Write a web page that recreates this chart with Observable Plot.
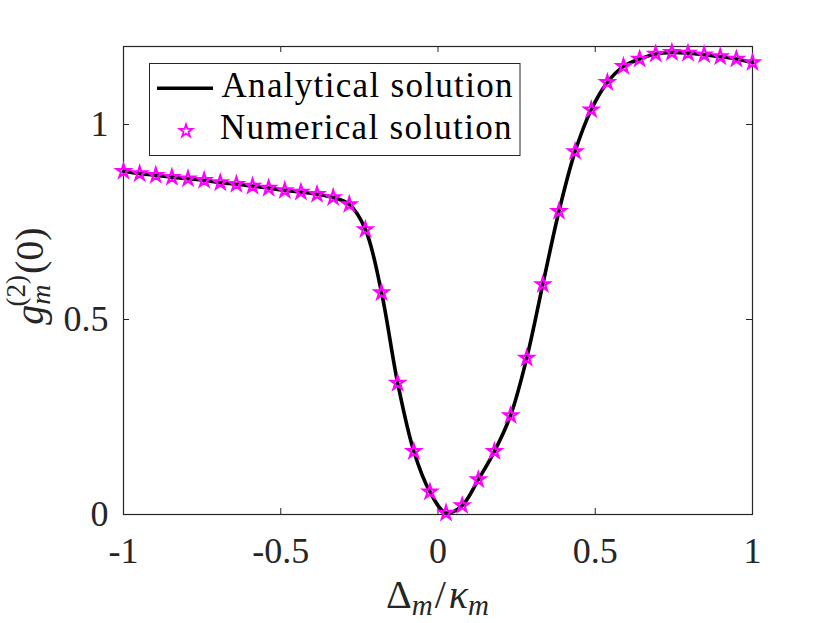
<!DOCTYPE html>
<html>
<head>
<meta charset="utf-8">
<script src="https://cdn.jsdelivr.net/npm/d3@7"></script>
<script src="https://cdn.jsdelivr.net/npm/@observablehq/plot@0.6"></script>
<style>
  html, body { margin: 0; padding: 0; background: #fff; }
  #chart { width: 830px; height: 623px; }
</style>
</head>
<body>
<div id="chart"></div>
<script>
// Detuning Δm/κm (40 sample points)
const detuning = [-1, -0.9487, -0.8974, -0.8462, -0.7949, -0.7436, -0.6923, -0.6410, -0.5897, -0.5385,
  -0.4872, -0.4359, -0.3846, -0.3333, -0.2821, -0.2308, -0.1795, -0.1282, -0.0769, -0.0256,
  0.0256, 0.0769, 0.1282, 0.1795, 0.2308, 0.2821, 0.3333, 0.3846, 0.4359, 0.4872,
  0.5385, 0.5897, 0.6410, 0.6923, 0.7436, 0.7949, 0.8462, 0.8974, 0.9487, 1];
// g_m^(2)(0) values
const g2 = [0.880, 0.874, 0.870, 0.865, 0.861, 0.857, 0.851, 0.847, 0.842, 0.837,
  0.831, 0.827, 0.821, 0.813, 0.795, 0.731, 0.569, 0.337, 0.162, 0.058,
  0.004, 0.023, 0.0895, 0.162, 0.254, 0.401, 0.590, 0.7775, 0.931, 1.038,
  1.108, 1.149, 1.168, 1.181, 1.185, 1.183, 1.179, 1.174, 1.168, 1.159];
const xTicks = [-1, -0.5, 0, 0.5, 1];
const yTicks = [0, 0.5, 1];
const legendLabels = ["Analytical solution", "Numerical solution"];

const data = detuning.map((x, i) => ({x, y: g2[i]}));

const W = 830, H = 623;
const mL = 123, mR = 78, mT = 46, mB = 109;
const innerW = W - mL - mR, innerH = H - mT - mB;
const axisColor = "#262626";
const font = "'Liberation Serif', 'Times New Roman', serif";
const tl = 6;

const chart = Plot.plot({
  width: W, height: H,
  marginLeft: mL, marginRight: mR, marginTop: mT, marginBottom: mB,
  style: {fontFamily: font, fontSize: "36px", color: axisColor, background: "white"},
  x: {domain: [-1, 1]},
  y: {domain: [0, 1.2]},
  marks: [
    Plot.axisX({ticks: xTicks, tickSize: 0, tickPadding: 23, tickFormat: d => String(d), label: null, fontSize: 36, fill: axisColor}),
    Plot.axisY({ticks: yTicks, tickSize: 0, tickPadding: 15, tickFormat: d => String(d), label: null, fontSize: 36, fill: axisColor}),
    Plot.tickX(xTicks, {x: d => d, insetTop: innerH - tl, stroke: axisColor, strokeWidth: 1}),
    Plot.tickX(xTicks, {x: d => d, insetBottom: innerH - tl, stroke: axisColor, strokeWidth: 1}),
    Plot.tickY(yTicks, {y: d => d, insetRight: innerW - tl, stroke: axisColor, strokeWidth: 1}),
    Plot.tickY(yTicks, {y: d => d, insetLeft: innerW - tl, stroke: axisColor, strokeWidth: 1}),
    Plot.frame({stroke: axisColor, strokeWidth: 1.2}),
    Plot.line(data, {x: "x", y: "y", curve: "catmull-rom", stroke: "black", strokeWidth: 3.6}),
    Plot.dot(data, {x: "x", y: "y", symbol: "star", r: 4.2, stroke: "#ff00ff", fill: "none", strokeWidth: 2.2})
  ]
});
document.getElementById("chart").appendChild(chart);

const svg = d3.select(chart);
const xs = chart.scale("x"), ys = chart.scale("y");

// X axis label: Δm/κm
const xl = svg.append("text")
  .attr("x", xs.apply(0)).attr("y", 608)
  .attr("text-anchor", "middle")
  .attr("font-family", font).attr("font-size", 40).attr("fill", axisColor);
xl.append("tspan").text("Δ");
xl.append("tspan").attr("font-style", "italic").attr("font-size", 29).attr("dy", 7).text("m");
xl.append("tspan").attr("dy", -7).attr("dx", 2).text("/");
xl.append("tspan").attr("font-style", "italic").attr("dx", 3).text("κ");
xl.append("tspan").attr("font-style", "italic").attr("font-size", 29).attr("dy", 7).text("m");

// Y axis label: g_m^(2)(0)
const yl = svg.append("text")
  .attr("transform", `translate(43,${ys.apply(0.6) - 4}) rotate(-90)`)
  .attr("text-anchor", "middle")
  .attr("font-family", font).attr("font-size", 40).attr("fill", axisColor);
yl.append("tspan").attr("font-style", "italic").text("g");
yl.append("tspan").attr("font-style", "italic").attr("font-size", 28).attr("dy", 7).text("m");
yl.append("tspan").attr("font-size", 27).attr("dx", -22).attr("dy", -25).text("(2)");
yl.append("tspan").attr("dy", 18).attr("dx", 1).text("(0)");

// Legend
const lg = svg.append("g").attr("text-anchor", "start");
lg.append("rect").attr("x", 149.5).attr("y", 63.5).attr("width", 370.5).attr("height", 92)
  .attr("fill", "white").attr("stroke", axisColor).attr("stroke-width", 1);
lg.append("line").attr("x1", 157).attr("x2", 213).attr("y1", 88.3).attr("y2", 88.3)
  .attr("stroke", "black").attr("stroke-width", 3.6);
lg.append("path").attr("d", d3.symbol(d3.symbolStar, Math.PI * 16)())
  .attr("transform", "translate(186,131)")
  .attr("fill", "none").attr("stroke", "#ff00ff").attr("stroke-width", 1.8);
lg.append("text").attr("x", 221.5).attr("y", 96.7).attr("textLength", 291).attr("lengthAdjust", "spacing")
  .attr("text-anchor", "start")
  .attr("font-family", font).attr("font-size", 35).attr("fill", "black").text(legendLabels[0]);
lg.append("text").attr("x", 220).attr("y", 138.5).attr("textLength", 291.5).attr("lengthAdjust", "spacing")
  .attr("text-anchor", "start")
  .attr("font-family", font).attr("font-size", 35).attr("fill", "black").text(legendLabels[1]);
</script>
</body>
</html>
